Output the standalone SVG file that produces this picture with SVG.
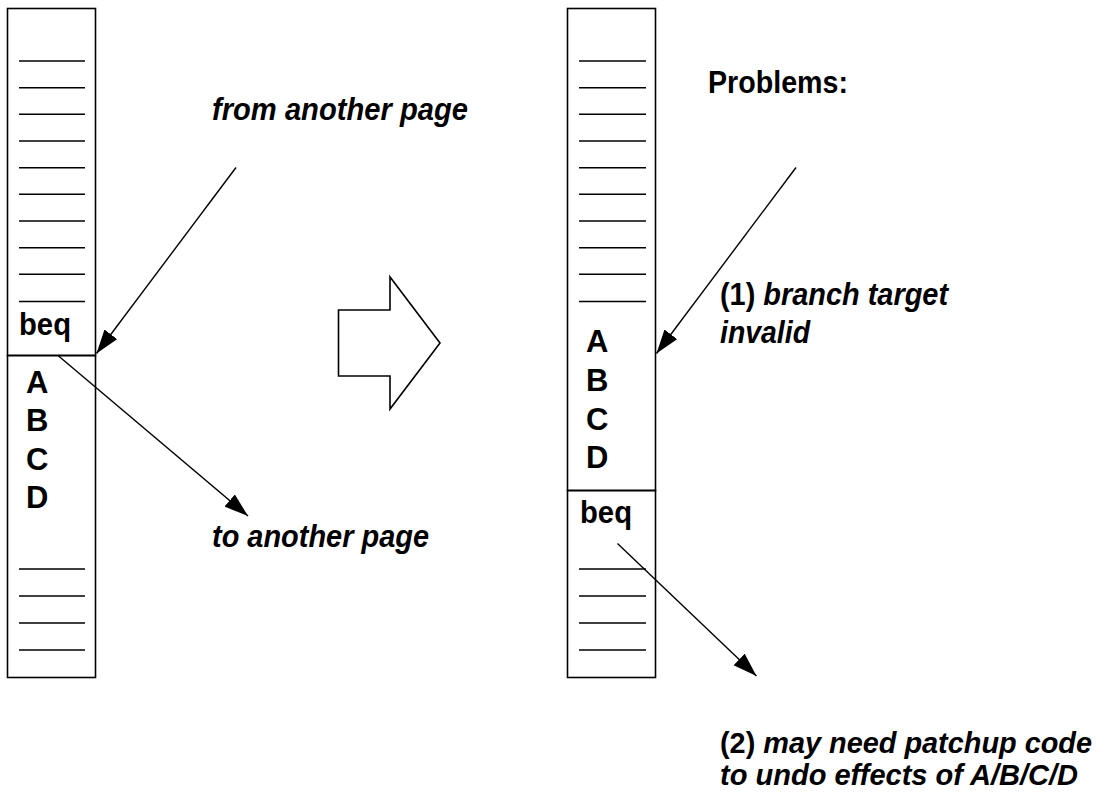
<svg xmlns="http://www.w3.org/2000/svg" width="1110" height="810" viewBox="0 0 1110 810">
<style>
.box{fill:none;stroke:#000;stroke-width:1.6}
.ln{stroke:#000;stroke-width:1.6}
.t{font-family:"Liberation Sans",Arial,sans-serif;font-weight:bold;font-size:32px;fill:#000}
.l{font-size:31px}
.s{font-size:30px}
.i{font-style:italic}
.c{fill:none;stroke:#000;stroke-width:1.4}
</style>
<defs>
<marker id="ah" markerUnits="userSpaceOnUse" markerWidth="26" markerHeight="18" refX="24" refY="8" orient="auto">
<path d="M0,0 L24,8 L0,16 Z" fill="#000"/>
</marker>
</defs>
<rect width="1110" height="810" fill="#fff"/>
<g id="left-page">
<rect class="box" x="7.5" y="8.5" width="88" height="347"/>
<rect class="box" x="7.5" y="355.5" width="88" height="322"/>
<g class="ln">
<line x1="19" y1="61" x2="85" y2="61"/>
<line x1="19" y1="87.7" x2="85" y2="87.7"/>
<line x1="19" y1="114.3" x2="85" y2="114.3"/>
<line x1="19" y1="141" x2="85" y2="141"/>
<line x1="19" y1="167.7" x2="85" y2="167.7"/>
<line x1="19" y1="194.3" x2="85" y2="194.3"/>
<line x1="19" y1="221" x2="85" y2="221"/>
<line x1="19" y1="247.7" x2="85" y2="247.7"/>
<line x1="19" y1="274.3" x2="85" y2="274.3"/>
<line x1="19" y1="301.5" x2="85" y2="301.5"/>
<line x1="19" y1="569" x2="85" y2="569"/>
<line x1="19" y1="596" x2="85" y2="596"/>
<line x1="19" y1="623" x2="85" y2="623"/>
<line x1="19" y1="650" x2="85" y2="650"/>
</g>
<text class="t" x="19" y="335" textLength="52" lengthAdjust="spacingAndGlyphs">beq</text>
<text class="t l" x="26" y="393">A</text>
<text class="t l" x="26" y="431">B</text>
<text class="t l" x="26" y="469.5">C</text>
<text class="t l" x="26" y="508">D</text>
</g>
<g id="right-page">
<rect class="box" x="567.5" y="8.5" width="88" height="482"/>
<rect class="box" x="567.5" y="490.5" width="88" height="187"/>
<g class="ln">
<line x1="579" y1="61" x2="646" y2="61"/>
<line x1="579" y1="87.7" x2="646" y2="87.7"/>
<line x1="579" y1="114.3" x2="646" y2="114.3"/>
<line x1="579" y1="141" x2="646" y2="141"/>
<line x1="579" y1="167.7" x2="646" y2="167.7"/>
<line x1="579" y1="194.3" x2="646" y2="194.3"/>
<line x1="579" y1="221" x2="646" y2="221"/>
<line x1="579" y1="247.7" x2="646" y2="247.7"/>
<line x1="579" y1="274.3" x2="646" y2="274.3"/>
<line x1="579" y1="301.5" x2="646" y2="301.5"/>
<line x1="579" y1="569" x2="646" y2="569"/>
<line x1="579" y1="596" x2="646" y2="596"/>
<line x1="579" y1="623" x2="646" y2="623"/>
<line x1="579" y1="650" x2="646" y2="650"/>
</g>
<text class="t l" x="586" y="352">A</text>
<text class="t l" x="586" y="391">B</text>
<text class="t l" x="586" y="429.5">C</text>
<text class="t l" x="586" y="468">D</text>
<text class="t" x="580" y="523" textLength="52" lengthAdjust="spacingAndGlyphs">beq</text>
</g>
<g id="transform-arrow">
<polygon points="338.5,310 390,310 390,277 440,343 390,409 390,376 338.5,376" fill="#fff" stroke="#000" stroke-width="1.6" stroke-linejoin="miter"/>
</g>
<g id="labels">
<text class="t i" x="212" y="120" textLength="256" lengthAdjust="spacingAndGlyphs">from another page</text>
<text class="t i" x="212" y="547" textLength="217" lengthAdjust="spacingAndGlyphs">to another page</text>
<text class="t" x="708" y="93" textLength="140" lengthAdjust="spacingAndGlyphs">Problems:</text>
<text class="t" x="720" y="305" textLength="228" lengthAdjust="spacingAndGlyphs">(1) <tspan class="i">branch target</tspan></text>
<text class="t i" x="720" y="343" textLength="90" lengthAdjust="spacingAndGlyphs">invalid</text>
<text class="t s" x="720" y="753" textLength="372" lengthAdjust="spacingAndGlyphs">(2) <tspan class="i">may need patchup code</tspan></text>
<text class="t s i" x="720" y="785" textLength="358" lengthAdjust="spacingAndGlyphs">to undo effects of A/B/C/D</text>
</g>
<g id="connectors">
<line class="c" x1="236" y1="167.5" x2="96.5" y2="353.5" marker-end="url(#ah)"/>
<line class="c" x1="58" y1="355.5" x2="248" y2="516" marker-end="url(#ah)"/>
<line class="c" x1="796" y1="167.5" x2="656.5" y2="353.5" marker-end="url(#ah)"/>
<line class="c" x1="617.5" y1="543.5" x2="756.5" y2="676" marker-end="url(#ah)"/>
</g>
</svg>
